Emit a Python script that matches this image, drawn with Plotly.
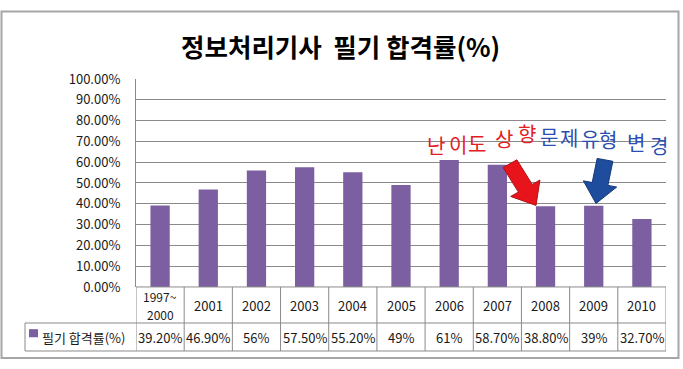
import math
import plotly.graph_objects as go

# ---- data ----
categories = ["1997~2000", "2001", "2002", "2003", "2004", "2005", "2006", "2007", "2008", "2009", "2010"]
category_labels = ["1997~<br>2000", "2001", "2002", "2003", "2004", "2005", "2006", "2007", "2008", "2009", "2010"]
pass_rate = [0.392, 0.469, 0.56, 0.575, 0.552, 0.49, 0.61, 0.587, 0.388, 0.39, 0.327]
value_labels = ["39.20%", "46.90%", "56%", "57.50%", "55.20%", "49%", "61%", "58.70%", "38.80%", "39%", "32.70%"]
series_name = "필기 합격률(%)"
title_text = "정보처리기사  필기 합격률(%)"

W, H = 683, 369
def X(px):
    return px / W
def Y(py):
    return 1 - py / H

FONT = "Noto Sans CJK KR"
BAR = "#7b5fa0"
GRID = "#8a8a8a"
TXT = "#1a1a1a"

fig = go.Figure()
fig.add_trace(go.Bar(x=categories, y=pass_rate, marker=dict(color=BAR, line=dict(width=0)),
                     name=series_name, showlegend=False, hoverinfo="skip"))

n = len(categories)
shapes = []
annotations = []

# table rows
row_top, row_mid, row_bot = 292, 330, 359.5
shapes.append(dict(type="line", xref="x", yref="paper", x0=-0.5, x1=n - 0.5, y0=Y(row_top), y1=Y(row_top),
                   line=dict(color=GRID, width=1)))
for yy in (row_mid, row_bot):
    shapes.append(dict(type="line", xref="paper", yref="paper", x0=X(25), x1=X(666), y0=Y(yy), y1=Y(yy),
                       line=dict(color=GRID, width=1)))
for k in range(n + 1):
    shapes.append(dict(type="line", xref="x", yref="paper", x0=k - 0.5, x1=k - 0.5, y0=Y(row_top), y1=Y(row_bot),
                       line=dict(color=GRID, width=1)))
shapes.append(dict(type="line", xref="paper", yref="paper", x0=X(25), x1=X(25), y0=Y(row_mid), y1=Y(row_bot),
                   line=dict(color=GRID, width=1)))
# legend key
shapes.append(dict(type="rect", xref="paper", yref="paper", x0=X(29), x1=X(38), y0=Y(345), y1=Y(336.5),
                   fillcolor=BAR, line=dict(width=0)))
# outer frame
shapes.append(dict(type="rect", xref="paper", yref="paper", x0=X(1.5), x1=X(678.5), y0=Y(367), y1=Y(1.5),
                   line=dict(color="#a6a6a6", width=2)))

def arrow(tail, tip, sw, hw, hl):
    dx, dy = tip[0] - tail[0], tip[1] - tail[1]
    L = math.hypot(dx, dy)
    ux, uy = dx / L, dy / L
    nx, ny = -uy, ux
    hx, hy = tip[0] - hl * ux, tip[1] - hl * uy
    pts = [(tail[0] + sw * nx, tail[1] + sw * ny), (hx + sw * nx, hy + sw * ny), (hx + hw * nx, hy + hw * ny),
           tip, (hx - hw * nx, hy - hw * ny), (hx - sw * nx, hy - sw * ny), (tail[0] - sw * nx, tail[1] - sw * ny)]
    return "M " + " L ".join(f"{X(a):.5f},{Y(b):.5f}" for a, b in pts) + " Z"

shapes.append(dict(type="path", xref="paper", yref="paper", path=arrow((510, 162), (536, 206), 8, 17, 21),
                   fillcolor="#e8141b", line=dict(color="#b01015", width=1)))
shapes.append(dict(type="path", xref="paper", yref="paper", path=arrow((605, 158), (596, 204), 8, 17, 21),
                   fillcolor="#1f4d9e", line=dict(color="#163a7a", width=1)))

# category row / value row (x given as category index on the category axis)
for i, (lab, v) in enumerate(zip(category_labels, value_labels)):
    parts = lab.split("<br>")
    if len(parts) == 1:
        ys, fs = [311.5], 13
    else:
        ys, fs = [302, 321], 12
    for part, yy in zip(parts, ys):
        annotations.append(dict(x=i, xref="x", y=Y(yy), yref="paper", text=part, showarrow=False,
                                font=dict(family=FONT, size=fs, color=TXT), yanchor="middle",
                                align="center", borderpad=0))
    annotations.append(dict(x=i, xref="x", y=Y(345), yref="paper", text=v, showarrow=False,
                            font=dict(family=FONT, size=13, color=TXT), yanchor="middle"))
annotations.append(dict(x=X(40), xref="paper", y=Y(345), yref="paper", text=series_name, showarrow=False,
                        xanchor="left", yanchor="middle", font=dict(family=FONT, size=13, color=TXT)))

# title
annotations.append(dict(x=X(340), xref="paper", y=Y(37.5), yref="paper", text="<b>" + title_text + "</b>",
                        showarrow=False, xanchor="center", yanchor="middle",
                        font=dict(family=FONT, size=25.5, color="#000000")))

# hand-written notes
red_chars = [("난", 436, 143), ("이", 458, 142), ("도", 477, 141), ("상", 504, 135), ("향", 527, 130)]
blue_chars = [("문", 549, 133), ("제", 569, 134), ("유", 590, 135), ("형", 608, 137), ("변", 636, 140), ("경", 659, 143)]
for ch, cx, cy in red_chars:
    annotations.append(dict(x=X(cx), xref="paper", y=Y(cy), yref="paper", text=ch, showarrow=False,
                            xanchor="center", yanchor="middle",
                            font=dict(family=FONT, size=20, color="#e3201f")))
for ch, cx, cy in blue_chars:
    annotations.append(dict(x=X(cx), xref="paper", y=Y(cy), yref="paper", text=ch, showarrow=False,
                            xanchor="center", yanchor="middle",
                            font=dict(family=FONT, size=20, color="#2a4fb0")))

fig.update_layout(
    width=W, height=H, margin=dict(l=0, r=0, t=0, b=0), autosize=False,
    paper_bgcolor="white", plot_bgcolor="white",
    bargap=0.6, showlegend=False,
    xaxis=dict(domain=[X(136), X(666)], type="category", range=[-0.5, n - 0.5], showticklabels=False,
               showgrid=False, zeroline=False, showline=False, fixedrange=True),
    yaxis=dict(domain=[Y(292), Y(72.7)], range=[0, 1], dtick=0.1, tickformat=".2%",
               showgrid=True, gridcolor=GRID, gridwidth=1, zeroline=False,
               showline=True, linecolor=GRID, linewidth=1, ticks="", ticklabelstandoff=12,
               tickfont=dict(family=FONT, size=13, color=TXT), fixedrange=True),
    shapes=shapes, annotations=annotations,
)

fig.write_html("out.html", config={"displayModeBar": False, "responsive": False},
               post_script="document.body.style.margin='0';document.body.style.overflow='hidden';")
